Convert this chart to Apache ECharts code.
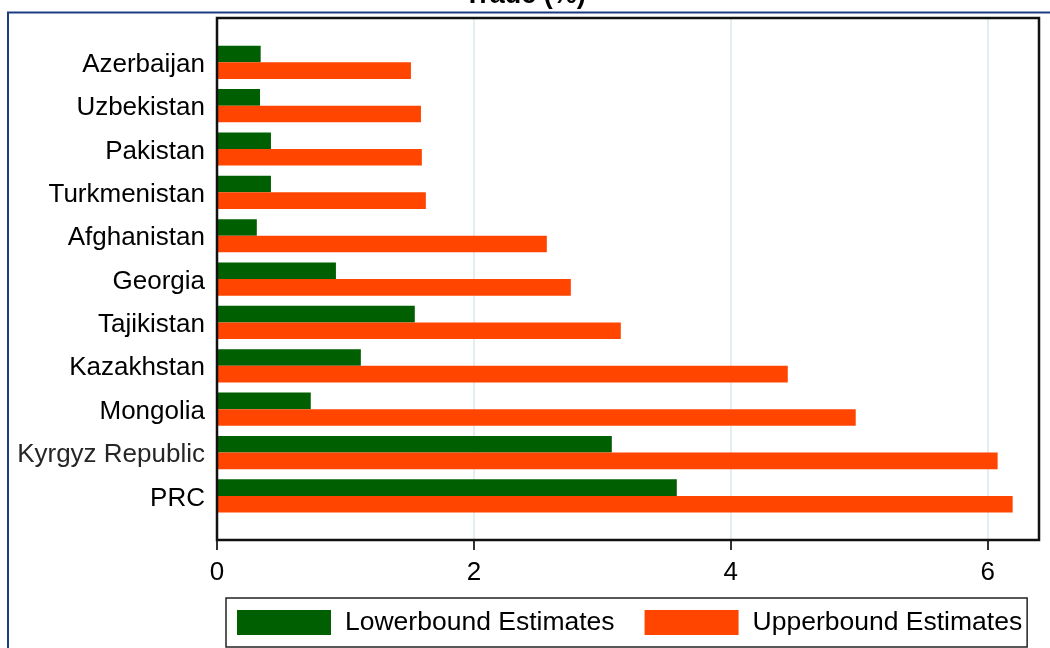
<!DOCTYPE html>
<html>
<head>
<meta charset="utf-8">
<script src="https://cdn.jsdelivr.net/npm/echarts@6/dist/echarts.min.js"></script>
<style>html,body{margin:0;padding:0;background:#fff}#c{width:1050px;height:648px}</style>
</head>
<body>
<div id="c"></div>
<script>
const categories = ['Azerbaijan','Uzbekistan','Pakistan','Turkmenistan','Afghanistan','Georgia','Tajikistan','Kazakhstan','Mongolia','Kyrgyz Republic','PRC'];
const lowerbound = [0.34, 0.335, 0.42, 0.42, 0.31, 0.926, 1.54, 1.12, 0.73, 3.074, 3.58];
const upperbound = [1.51, 1.588, 1.595, 1.626, 2.568, 2.755, 3.144, 4.444, 4.973, 6.078, 6.195];
const xTicks = [0, 2, 4, 6];
const seriesNames = ['Lowerbound Estimates', 'Upperbound Estimates'];
const titleText = 'Trade (%)';

const FONT = '"Liberation Sans", Arial, sans-serif';
const chart = echarts.init(document.getElementById('c'), null, {renderer: 'canvas'});
chart.setOption({
  animation: false,
  backgroundColor: '#fff',
  title: {
    text: titleText, left: 'center', top: -23,
    textStyle: {fontFamily: FONT, fontSize: 27, fontWeight: 'bold', color: '#000'}
  },
  graphic: [
    {type: 'rect', shape: {x: 8, y: 12.5, width: 1200, height: 800},
     style: {fill: 'none', stroke: '#1c3c84', lineWidth: 2}, silent: true, z: 0},
    {type: 'rect', shape: {x: 217, y: 18, width: 822, height: 522},
     style: {fill: 'none', stroke: '#111', lineWidth: 2.5}, silent: true, z: 100}
  ],
  legend: {
    data: seriesNames, left: 226, top: 598,
    padding: [11, 5, 11, 11], itemGap: 30, itemWidth: 94, itemHeight: 25,
    borderColor: '#222', borderWidth: 1.5, icon: 'rect',
    textStyle: {fontFamily: FONT, fontSize: 26.5, color: '#000', padding: [3, 0, 0, 9]}
  },
  grid: [
    {left: 217, right: 11, top: 18, bottom: 108, show: false, containLabel: false},
    {left: 217, right: 11, top: 40.6, bottom: 130.4, containLabel: false}
  ],
  xAxis: [
    {type: 'value', gridIndex: 0, min: 0, max: 6.4, interval: 2,
     axisLine: {show: true, lineStyle: {color: '#111', width: 2}},
     axisTick: {show: true, length: 10, customValues: xTicks, lineStyle: {color: '#333', width: 2}},
     axisLabel: {fontFamily: FONT, fontSize: 26, color: '#000', margin: 20, customValues: xTicks},
     splitLine: {show: true, lineStyle: {color: '#e3eef2', width: 2}}},
    {type: 'value', gridIndex: 1, min: 0, max: 6.4, show: false, splitLine: {show: false}}
  ],
  yAxis: [
    {type: 'value', gridIndex: 0, show: false, splitLine: {show: false}},
    {type: 'category', gridIndex: 1, data: categories, inverse: true,
     axisLine: {show: false}, axisTick: {show: false},
     axisLabel: {fontFamily: FONT, fontSize: 26, color: '#000', margin: 12, padding: [5, 0, 0, 0],
       formatter: v => v === 'Kyrgyz Republic' ? '{g|' + v + '}' : v,
       rich: {g: {fontFamily: FONT, fontSize: 26, color: '#262626'}}}}
  ],
  series: [
    {name: seriesNames[0], type: 'bar', xAxisIndex: 1, yAxisIndex: 1, data: lowerbound,
     barWidth: 16.6, barGap: '0%', itemStyle: {color: '#005f00'}},
    {name: seriesNames[1], type: 'bar', xAxisIndex: 1, yAxisIndex: 1, data: upperbound,
     barWidth: 16.6, barGap: '0%', itemStyle: {color: '#ff4500'}}
  ]
});
</script>
</body>
</html>
